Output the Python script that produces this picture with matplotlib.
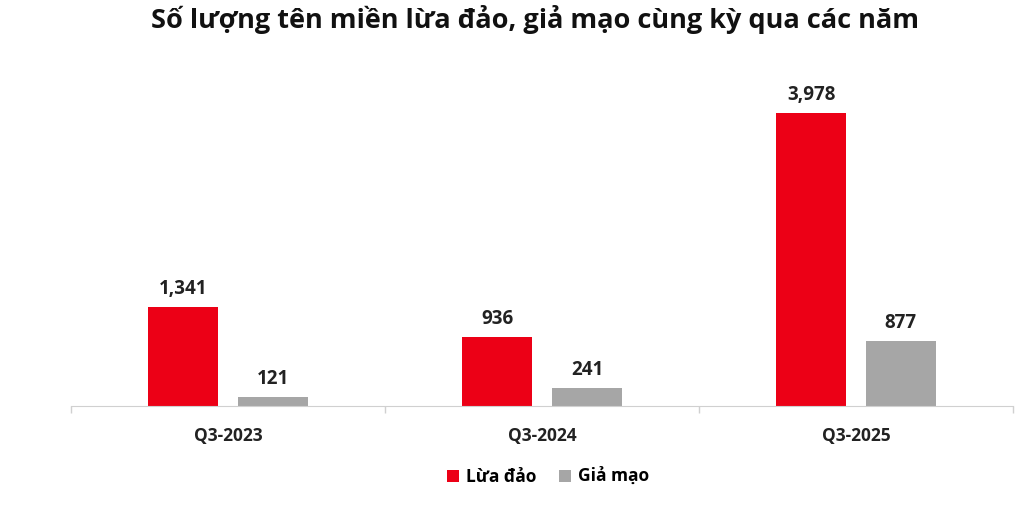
import matplotlib.pyplot as plt
import numpy as np

# Dữ liệu
quarters = ["Q3-2023", "Q3-2024", "Q3-2025"]
lua_dao = [1341, 936, 3978]
gia_mao = [121, 241, 877]

red = "#EC0016"
grey = "#A6A6A6"

plt.rcParams['font.family'] = ['Open Sans', 'DejaVu Sans']

fig = plt.figure(figsize=(10.24, 5.13), dpi=100)
ax = fig.add_axes([0.0693, 0.2086, 0.92, 0.635])

x = np.arange(len(quarters))
w = 0.223
off = 0.143
b1 = ax.bar(x - off, lua_dao, w, color=red, label="Lừa đảo")
b2 = ax.bar(x + off, gia_mao, w, color=grey, label="Giả mạo")

for bars, vals in [(b1, lua_dao), (b2, gia_mao)]:
    for b, v in zip(bars, vals):
        ax.annotate(f"{v:,}", (b.get_x() + b.get_width() / 2, v),
                    xytext=(0, 6), textcoords="offset points",
                    ha="center", va="bottom", fontsize=13.5,
                    fontweight="bold", color="#222222")

ax.set_xlim(-0.5, 2.5)
ax.set_ylim(0, 4424)

# vạch chia giữa các nhóm
ax.set_xticks([-0.5, 0.5, 1.5, 2.5])
ax.set_xticklabels([])
ax.tick_params(axis='x', which='major', length=5, color="#D0D0D0", width=1)
ax.set_xticks(x, minor=True)
ax.set_xticklabels(quarters, minor=True, fontsize=12.5, fontweight="bold",
                   color="#222222")
ax.tick_params(axis='x', which='minor', length=0, pad=15)

ax.set_yticks([])
for s in ["top", "right", "left"]:
    ax.spines[s].set_visible(False)
ax.spines["bottom"].set_color("#D0D0D0")

fig.suptitle("Số lượng tên miền lừa đảo, giả mạo cùng kỳ qua các năm",
             fontsize=19.5, fontweight="bold", y=0.99, x=0.522, color="#111111")

fig.legend(handles=[b1, b2], loc="center", bbox_to_anchor=(0.535, 0.07),
           ncol=2, frameon=False, handlelength=0.7,
           handleheight=0.7, handletextpad=0.4, columnspacing=1.3,
           prop={'weight': 'bold', 'size': 12.5})

fig.savefig("out.png", dpi=100)
